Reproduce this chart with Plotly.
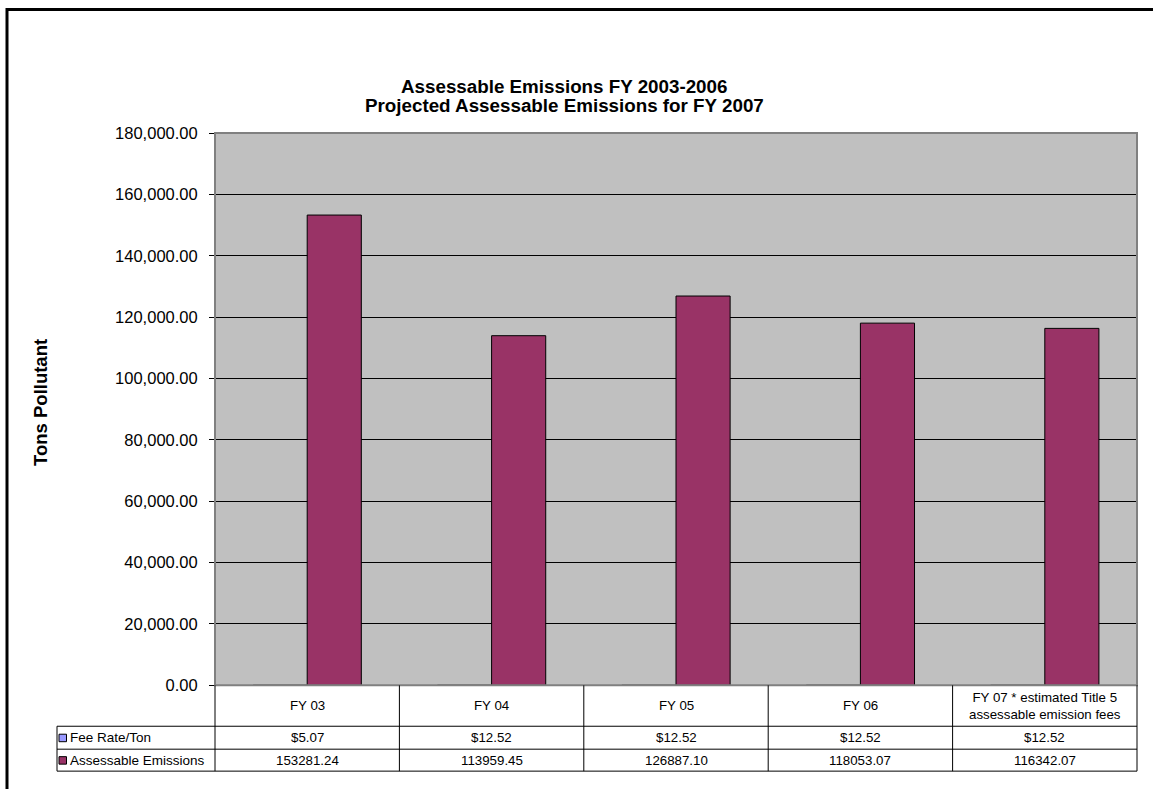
import plotly.graph_objects as go

# Chart data
categories = ["FY 03", "FY 04", "FY 05", "FY 06", "FY 07 * estimated Title 5<br>assessable emission fees"]
fee_rate = [5.07, 12.52, 12.52, 12.52, 12.52]
emissions = [153281.24, 113959.45, 126887.10, 118053.07, 116342.07]
fee_labels = ["$5.07", "$12.52", "$12.52", "$12.52", "$12.52"]
emission_labels = ["153281.24", "113959.45", "126887.10", "118053.07", "116342.07"]
y_ticks = [0, 20000, 40000, 60000, 80000, 100000, 120000, 140000, 160000, 180000]

W, H = 1153, 789
# Vertical placement of the page layout inside the figure
Y_SHIFT, Y_SCALE = 7.14, 0.9794
FONT = "Arial, Liberation Sans, sans-serif"
FEE_COLOR = "#9999FF"
EM_COLOR = "#993366"


def fx(x):
    return x / W


def fy(y):
    return 1 - ((y - Y_SHIFT) / Y_SCALE) / H


# Plot area in layout pixels
PL, PR, PT, PB = 215, 1137, 131.5, 685
# Data table rows
ROW0, ROW1, ROW2 = 726, 749, 771
TABLE_LEFT = 57

fig = go.Figure()
fig.add_trace(go.Bar(
    x=categories, y=fee_rate, name="Fee Rate/Ton",
    marker=dict(color=FEE_COLOR, line=dict(color="black", width=1)),
))
fig.add_trace(go.Bar(
    x=categories, y=emissions, name="Assessable Emissions",
    marker=dict(color=EM_COLOR, line=dict(color="black", width=1)),
))

shapes = []
# Outer chart frame
shapes.append(dict(type="rect", xref="paper", yref="paper",
                   x0=fx(7), x1=fx(1175), y0=1 - 0.4 / H, y1=-0.05,
                   line=dict(color="black", width=3), layer="below"))
# Plot area border
shapes.append(dict(type="rect", xref="paper", yref="paper",
                   x0=fx(PL), x1=fx(PR), y0=fy(PT), y1=fy(PB),
                   line=dict(color="#808080", width=2), layer="above"))
# Table horizontal rules
for yy in (ROW0, ROW1, ROW2):
    shapes.append(dict(type="line", xref="paper", yref="paper",
                       x0=fx(TABLE_LEFT), x1=fx(PR), y0=fy(yy), y1=fy(yy),
                       line=dict(color="black", width=1)))
# Table vertical rules
shapes.append(dict(type="line", xref="paper", yref="paper",
                   x0=fx(TABLE_LEFT), x1=fx(TABLE_LEFT), y0=fy(ROW0), y1=fy(ROW2),
                   line=dict(color="black", width=1)))
shapes.append(dict(type="line", xref="paper", yref="paper",
                   x0=fx(PL), x1=fx(PL), y0=fy(PB), y1=fy(ROW2),
                   line=dict(color="black", width=1)))
shapes.append(dict(type="line", xref="paper", yref="paper",
                   x0=fx(PR), x1=fx(PR), y0=fy(PB), y1=fy(ROW2),
                   line=dict(color="black", width=1)))
for i in range(len(categories) - 1):
    shapes.append(dict(type="line", xref="x", yref="paper",
                       x0=i + 0.5, x1=i + 0.5, y0=fy(PB), y1=fy(ROW2),
                       line=dict(color="black", width=1)))
# Legend keys inside the table
for yc, col in (((ROW0 + ROW1) / 2, FEE_COLOR), ((ROW1 + ROW2) / 2, EM_COLOR)):
    shapes.append(dict(type="rect", xref="paper", yref="paper",
                       x0=fx(59), x1=fx(66.5), y0=fy(yc - 3.5), y1=fy(yc + 4),
                       fillcolor=col, line=dict(color="black", width=1)))

annotations = []
# Two-line title
for line, yc in (("Assessable Emissions FY 2003-2006", 84.5),
                 ("Projected Assessable Emissions for FY 2007", 104)):
    annotations.append(dict(
        text="<b>" + line + "</b>",
        xref="paper", yref="paper", x=fx(564), y=fy(yc), xanchor="center", yanchor="middle",
        showarrow=False, font=dict(family=FONT, size=18.8, color="black")))
# Y axis title
annotations.append(dict(
    text="<b>Tons Pollutant</b>", textangle=-90,
    xref="paper", yref="paper", x=fx(41), y=fy(402), xanchor="center", yanchor="middle",
    showarrow=False, font=dict(family=FONT, size=18.5, color="black")))
# Table header and cells
for i, cat in enumerate(categories):
    annotations.append(dict(text=cat, xref="x", yref="paper", x=i, y=fy((PB + ROW0) / 2),
                            xanchor="center", yanchor="middle", showarrow=False, align="center",
                            font=dict(family=FONT, size=13.3, color="black")))
    annotations.append(dict(text=fee_labels[i], xref="x", yref="paper", x=i, y=fy((ROW0 + ROW1) / 2),
                            xanchor="center", yanchor="middle", showarrow=False,
                            font=dict(family=FONT, size=13.3, color="black")))
    annotations.append(dict(text=emission_labels[i], xref="x", yref="paper", x=i, y=fy((ROW1 + ROW2) / 2),
                            xanchor="center", yanchor="middle", showarrow=False,
                            font=dict(family=FONT, size=13.3, color="black")))
for label, yc in (("Fee Rate/Ton", (ROW0 + ROW1) / 2), ("Assessable Emissions", (ROW1 + ROW2) / 2)):
    annotations.append(dict(text=label, xref="paper", yref="paper", x=fx(68), y=fy(yc),
                            xanchor="left", yanchor="middle", showarrow=False,
                            font=dict(family=FONT, size=13.5, color="black")))

fig.update_layout(
    width=W, height=H,
    margin=dict(l=0, r=0, t=0, b=0),
    paper_bgcolor="white", plot_bgcolor="#C0C0C0",
    showlegend=False,
    barmode="group", bargap=0.413, bargroupgap=0,
    font=dict(family=FONT, color="black"),
    xaxis=dict(domain=[fx(PL), fx(PR)], range=[-0.5, len(categories) - 0.5],
               showticklabels=False, ticks="", showgrid=False, zeroline=False,
               showline=True, linecolor="black", linewidth=1),
    yaxis=dict(domain=[fy(PB), fy(PT)], range=[0, 180000], tickvals=y_ticks,
               tickformat=",.2f", ticks="outside", ticklen=5, tickcolor="black",
               ticklabelstandoff=8,
               tickfont=dict(family=FONT, size=16.5, color="black"),
               showgrid=True, gridcolor="black", gridwidth=1, zeroline=False,
               showline=True, linecolor="black", linewidth=1),
    shapes=shapes, annotations=annotations,
)

fig.write_html("out.html")
